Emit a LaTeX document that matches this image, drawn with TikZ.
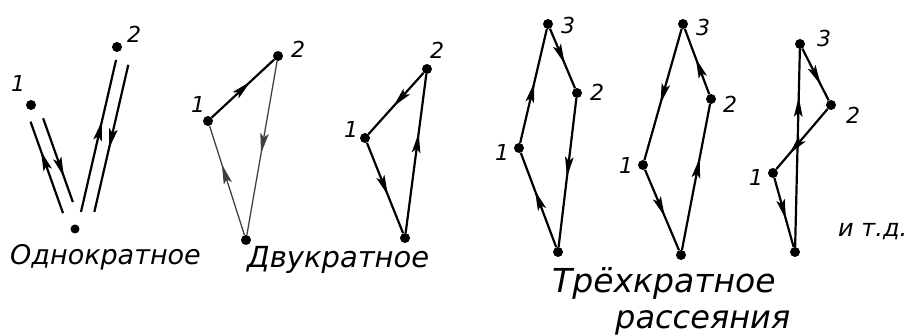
\documentclass[tikz,border=0pt]{standalone}
\usepackage{fontspec}
\setmainfont{DejaVu Sans}
\usetikzlibrary{arrows.meta, calc, decorations.markings}

\begin{document}
\begin{tikzpicture}[
  x=1pt, y=-1pt,
  dot/.style={circle, fill=black, inner sep=0pt, minimum size=10pt},
  num/.style={font=\fontsize{22}{24}\selectfont\itshape, inner sep=0pt},
  caption/.style={font=\fontsize{27}{30}\selectfont\itshape, inner sep=0pt, anchor=base west},
  bigcaption/.style={font=\fontsize{33}{36}\selectfont\itshape, inner sep=0pt, anchor=base west},
  ray/.style={line width=2.2pt, black},
  faint/.style={line width=1.3pt, black!75},
  mid/.style={postaction={decorate, decoration={markings,
      mark=at position #1 with {\arrow{Stealth[length=20pt, width=8.5pt, inset=4pt]}}}}},
]
\useasboundingbox (0,0) rectangle (908,336);

\node[dot, minimum size=9pt] (sA0) at (75,229) {};
\node[dot] (sA1) at (31,105) {};
\node[dot] (sA2) at (117,47) {};
\node[num] (lsA1) at (18,83) {1};
\node[num] (lsA2) at (134,34) {2};

\node[dot] (dA0) at (246,240) {};
\node[dot] (dA1) at (208,121) {};
\node[dot] (dA2) at (278,56) {};
\node[num] (ldA1) at (198,104) {1};
\node[num] (ldA2) at (298,49) {2};

\node[dot] (dB0) at (405,238) {};
\node[dot] (dB1) at (365,138) {};
\node[dot] (dB2) at (427,69) {};
\node[num] (ldB1) at (351,129) {1};
\node[num] (ldB2) at (437,50) {2};

\node[dot] (tA0) at (558,252) {};
\node[dot] (tA1) at (519,148) {};
\node[dot] (tA2) at (577,93) {};
\node[dot] (tA3) at (548,24) {};
\node[num] (ltA1) at (502,152) {1};
\node[num] (ltA2) at (597,92) {2};
\node[num] (ltA3) at (568,25) {3};

\node[dot] (tB0) at (681,255) {};
\node[dot] (tB1) at (643,165) {};
\node[dot] (tB2) at (711,99) {};
\node[dot] (tB3) at (683,24) {};
\node[num] (ltB1) at (626,165) {1};
\node[num] (ltB2) at (730,104) {2};
\node[num] (ltB3) at (703,27) {3};

\node[dot] (tC0) at (795,252) {};
\node[dot] (tC1) at (773,173) {};
\node[dot] (tC2) at (831,105) {};
\node[dot] (tC3) at (800,44) {};
\node[num] (ltC1) at (756,177) {1};
\node[num] (ltC2) at (853,115) {2};
\node[num] (ltC3) at (824,38) {3};

\node[caption] (single) at (10,265) {Однократное};
\node[caption, font=\fontsize{29}{32}\selectfont\itshape] (double) at (247,268) {Двукратное};
\node[bigcaption] (triple) at (552,293) {Трёхкратное};
\node[bigcaption, font=\fontsize{32}{34}\selectfont\itshape] (scatter) at (615,329) {рассеяния};
\node[caption, font=\fontsize{24}{26}\selectfont\itshape] (etc) at (838,237) {и т.д.};

\draw[ray, mid=0.68] ($(sA0)!19pt!(sA1)!6pt!90:(sA1)$) -- ($(sA0)!116pt!(sA1)!6pt!90:(sA1)$);
\draw[ray, mid=0.7] ($(sA0)!115pt!(sA1)!7pt!-90:(sA1)$) -- ($(sA0)!26pt!(sA1)!7pt!-90:(sA1)$);
\draw[ray, mid=0.6] ($(sA0)!18pt!(sA2)!2pt!-90:(sA2)$) -- ($(sA0)!174pt!(sA2)!2pt!-90:(sA2)$);
\draw[ray, mid=0.57] ($(sA0)!172pt!(sA2)!15pt!-90:(sA2)$) -- ($(sA0)!21pt!(sA2)!15pt!-90:(sA2)$);

\draw[ray, mid=0.62] (dA1) -- (dA2);
\draw[faint, mid=0.53] (dA2) -- (dA0);
\draw[faint, mid=0.65] (dA0) -- (dA1);

\draw[ray, mid=0.55] (dB2) -- (dB1);
\draw[ray, mid=0.58] (dB1) -- (dB0);
\draw[ray, mid=0.63] (dB0) -- (dB2);

\draw[ray, mid=0.6] (tA0) -- (tA1);
\draw[ray, mid=0.53] (tA1) -- (tA3);
\draw[ray, mid=0.59] (tA3) -- (tA2);
\draw[ray, mid=0.53] (tA2) -- (tA0);

\draw[ray, mid=0.57] (tB3) -- (tB1);
\draw[ray, mid=0.58] (tB1) -- (tB0);
\draw[ray, mid=0.63] (tB0) -- (tB2);
\draw[ray, mid=0.55] (tB2) -- (tB3);

\draw[ray, mid=0.7] (tC3) -- (tC2);
\draw[ray, mid=0.75] (tC2) -- (tC1);
\draw[ray, mid=0.6] (tC1) -- (tC0);
\draw[ray, mid=0.76] (tC0) -- (tC3);
\end{tikzpicture}
\end{document}
